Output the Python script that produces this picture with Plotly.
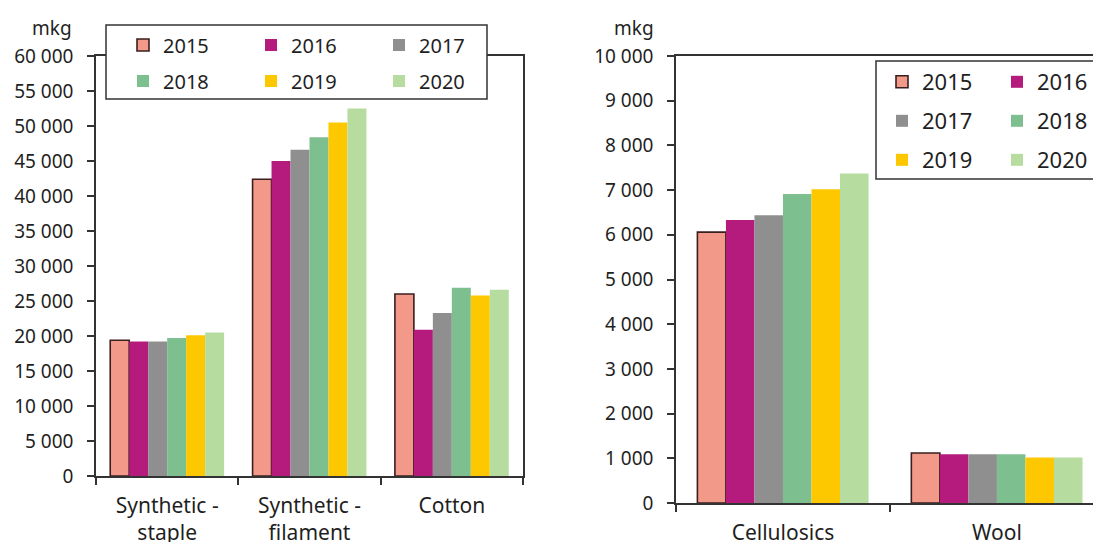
import plotly.graph_objects as go

W, H = 1093, 542

years = ["2015", "2016", "2017", "2018", "2019", "2020"]
colors = ["#F3998A", "#B51B7C", "#8F8F8F", "#7EBF8F", "#FDC800", "#B7DCA0"]

cats_left = ["Synthetic -<br>staple", "Synthetic -<br>filament", "Cotton"]
vals_left = {
    "2015": [19400, 42400, 26000],
    "2016": [19200, 45000, 20900],
    "2017": [19200, 46600, 23300],
    "2018": [19700, 48400, 26900],
    "2019": [20100, 50500, 25800],
    "2020": [20500, 52500, 26600],
}

cats_right = ["Cellulosics", "Wool"]
vals_right = {
    "2015": [6060, 1120],
    "2016": [6330, 1090],
    "2017": [6440, 1090],
    "2018": [6910, 1090],
    "2019": [7020, 1020],
    "2020": [7370, 1020],
}

left_legend_of = ["legend", "legend", "legend", "legend2", "legend2", "legend2"]
right_legend_of = ["legend3", "legend3", "legend4", "legend4", "legend5", "legend5"]

FONT = "Noto Sans"
TXT = "#1f1f1f"
LINE = "#333333"

fig = go.Figure()
for i, y in enumerate(years):
    outline = dict(color="#3a1f1f", width=1.6) if i == 0 else dict(width=0)
    fig.add_trace(go.Bar(x=cats_left, y=vals_left[y], name=y, marker=dict(color=colors[i], line=outline),
                         xaxis="x", yaxis="y", legend=left_legend_of[i]))
for i, y in enumerate(years):
    outline = dict(color="#3a1f1f", width=1.6) if i == 0 else dict(width=0)
    fig.add_trace(go.Bar(x=cats_right, y=vals_right[y], name=y, marker=dict(color=colors[i], line=outline),
                         xaxis="x2", yaxis="y2", legend=right_legend_of[i]))

def px(x):
    return x / W

def py(y):
    return (H - y) / H

axis_common = dict(showline=True, linecolor=LINE, linewidth=1.5, showgrid=False, zeroline=False,
                   ticks="outside", tickcolor=LINE, tickwidth=1.5, ticklen=7,
                   tickfont=dict(family=FONT, size=19, color=TXT))
xfont = dict(family=FONT, size=21, color=TXT)

fig.update_layout(
    width=W, height=H,
    margin=dict(l=0, r=0, t=0, b=0, autoexpand=False),
    paper_bgcolor="white", plot_bgcolor="white",
    separators=". ",
    barmode="group", bargap=0.2, bargroupgap=0,
    font=dict(family=FONT, color=TXT),
    xaxis=dict(domain=[px(96), px(523)], anchor="y", range=[-0.5, 2.5], mirror=True,
               tickson="boundaries", **{**axis_common, "tickfont": xfont},
               ticklabelstandoff=10),
    yaxis=dict(domain=[py(476), py(56)], anchor="x", range=[0, 60000], dtick=5000, tickformat=",d",
               mirror=True, ticklabelstandoff=10, **axis_common),
    xaxis2=dict(domain=[px(676), 1.0], anchor="y2", range=[-0.5, 1.449], mirror=True,
                tickson="boundaries", **{**axis_common, "tickfont": xfont},
                ticklabelstandoff=10),
    yaxis2=dict(domain=[py(503), py(56)], anchor="x2", range=[0, 10000], dtick=1000, tickformat=",d",
                mirror=False, ticklabelstandoff=10, **axis_common),
)

leg_font_l = dict(family=FONT, size=20, color=TXT)
leg_font_r = dict(family=FONT, size=22, color=TXT)
common_leg = dict(orientation="h", xanchor="left", yanchor="middle", bgcolor="rgba(0,0,0,0)",
                  borderwidth=0, entrywidthmode="pixels", traceorder="normal")
fig.update_layout(
    legend=dict(x=px(123), y=py(45), entrywidth=83, font=leg_font_l, **common_leg),
    legend2=dict(x=px(123), y=py(81), entrywidth=83, font=leg_font_l, **common_leg),
    legend3=dict(x=px(882), y=py(82), entrywidth=70, font=leg_font_r, **common_leg),
    legend4=dict(x=px(882), y=py(121), entrywidth=70, font=leg_font_r, **common_leg),
    legend5=dict(x=px(882), y=py(160), entrywidth=70, font=leg_font_r, **common_leg),
)

# legend frames
fig.add_shape(type="rect", xref="paper", yref="paper", x0=px(106), x1=px(487), y0=py(99), y1=py(25),
              line=dict(color=LINE, width=1.5), fillcolor="white", layer="above")
fig.add_shape(type="rect", xref="paper", yref="paper", x0=px(876), x1=px(1110), y0=py(179), y1=py(61),
              line=dict(color=LINE, width=1.5), fillcolor="white", layer="above")

# unit labels
for xr, txt in [(74, "mkg"), (656, "mkg")]:
    fig.add_annotation(xref="paper", yref="paper", x=px(xr), y=py(28), text=txt, showarrow=False,
                       xanchor="right", yanchor="middle", font=dict(family=FONT, size=19, color=TXT))

fig.write_html("out.html")
